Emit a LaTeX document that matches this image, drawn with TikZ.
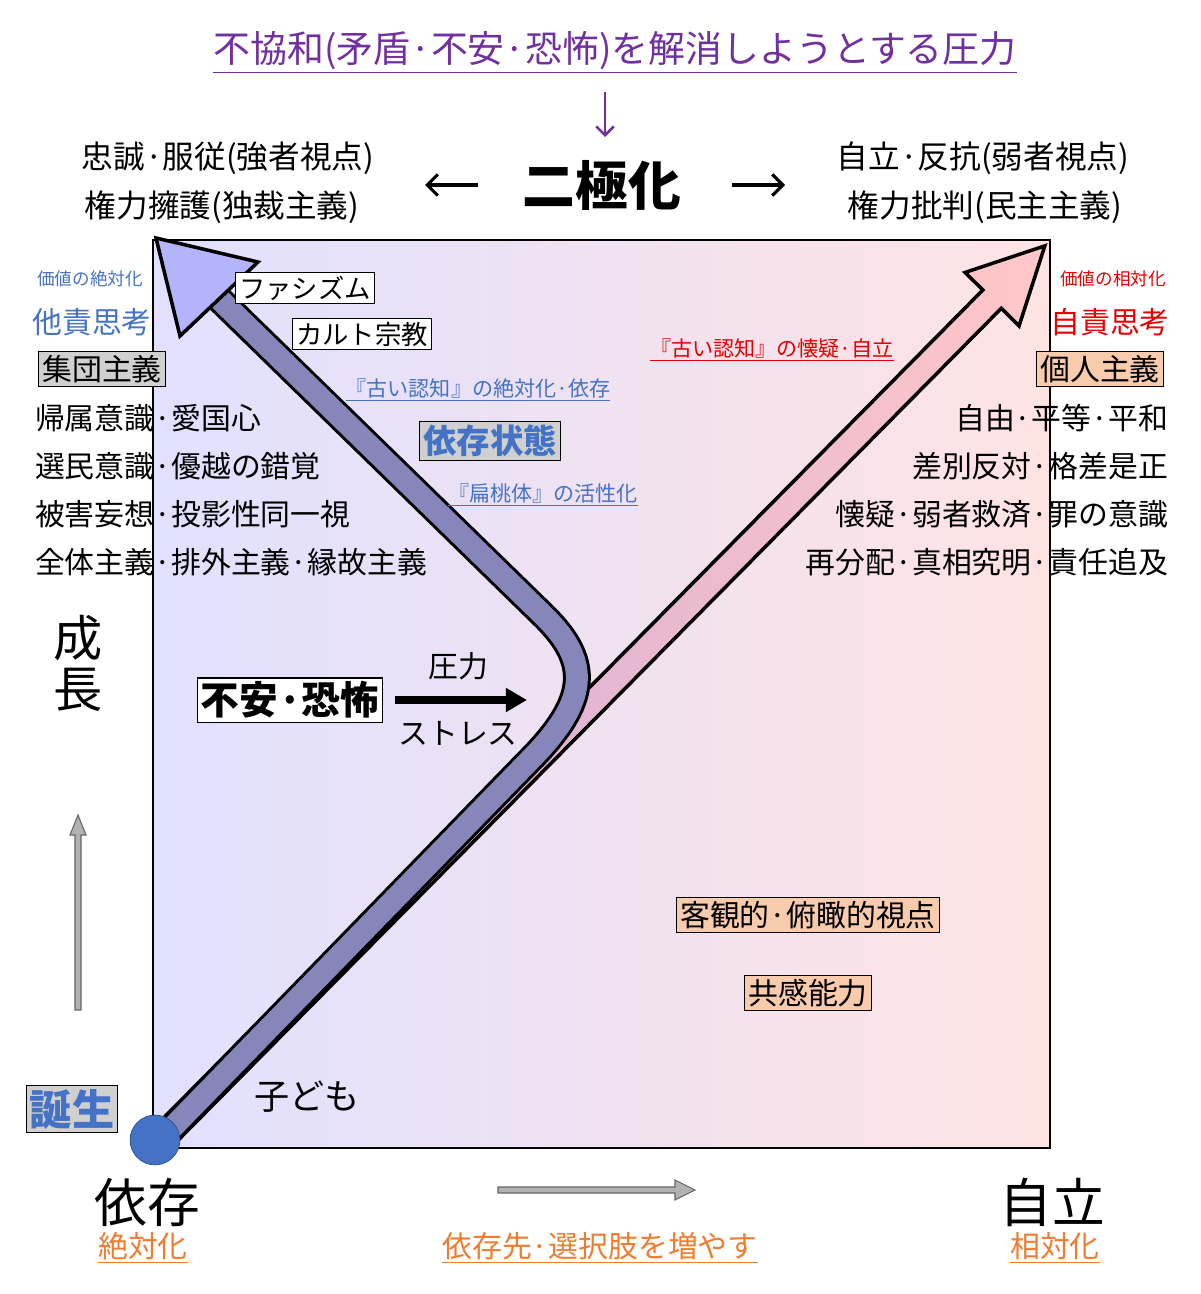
\documentclass[tikz,border=0pt]{standalone}
\usepackage{fontspec}
\setmainfont{Noto Sans CJK JP}
\usetikzlibrary{arrows.meta}
\definecolor{tblue}{RGB}{68,114,196}
\definecolor{tred}{RGB}{230,0,0}
\definecolor{torange}{RGB}{237,125,49}
\definecolor{tpurple}{RGB}{112,48,160}
\definecolor{obox}{RGB}{248,203,173}
\definecolor{gbox}{RGB}{208,208,208}
\definecolor{abl}{RGB}{180,180,250}
\newcommand{\fs}[1]{\fontsize{#1}{#1}\selectfont}
\tikzset{
 t/.style={inner sep=1pt,font=\fs{17}},
 ul/.style={t},
 bx/.style={t,draw,inner sep=2pt,line width=0.6pt},
}
\begin{document}
\begin{tikzpicture}[x=0.02cm,y=0.02cm]
\useasboundingbox (0,0) rectangle (1200,-1294);
% background box
\shade[left color=blue!12,middle color=white,right color=red!11] (153,-240) rectangle (1050,-1148);
\draw[line width=0.8pt] (153,-240) rectangle (1050,-1148);
% red arrow
\begin{scope}[shift={(160,-1140)},rotate=45.3]
\fill[left color=red!40!blue!35,right color=red!22,draw=black,line width=2pt]
 (0,-13)--(1183,-13)--(1183,-38)--(1258,0)--(1183,38)--(1183,13)--(0,13)--cycle;
\end{scope}
% blue arrow
\draw[line width=28pt*0.567,black,line cap=butt] (168,-1132) -- (528,-762) .. controls (590,-700) and (590,-662) .. (545,-617) -- (214,-294);
\draw[line width=22pt*0.567,abl,opacity=0.75] (168,-1132) -- (528,-762) .. controls (590,-700) and (590,-662) .. (545,-617) -- (210,-290);
\fill[abl,draw=black,line width=2pt] (156,-238) -- (258,-262) -- (180,-336) -- cycle;
% title
\node[ul,text=tpurple,font=\fs{21}] (title) at (615,-52) {\underline{不協和(矛盾·不安·恐怖)を解消しようとする圧力}};
\coordinate (pa) at (605,-92); \coordinate (pb) at (605,-137);
\draw[tpurple,line width=1.5pt,-{Straight Barb[length=5pt]}] (pa)--(pb);
\node[t,font=\fs{18}] (l1) at (228,-158) {忠誠·服従(強者視点)};
\node[t,font=\fs{18}] (l2) at (222,-207) {権力擁護(独裁主義)};
\node[t,font=\fs{18}] (r1) at (983,-158) {自立·反抗(弱者視点)};
\node[t,font=\fs{18}] (r2) at (985,-207) {権力批判(民主主義)};
\node[t,font=\fs{30}\bfseries] (nk) at (602,-185) {二極化};
\coordinate (al) at (478,-185); \coordinate (al2) at (425,-185);
\coordinate (ar) at (732,-185); \coordinate (ar2) at (785,-185);
\draw[line width=1.8pt,-{Straight Barb[length=6pt]}] (al)--(al2);
\draw[line width=1.8pt,-{Straight Barb[length=6pt]}] (ar)--(ar2);
% left column
\node[t,text=tblue,font=\fs{10}] (lv) at (90,-279) {価値の絶対化};
\node[t,text=tblue] (lt) at (92,-322) {他責思考};
\node[bx,fill=gbox] (lg) at (102,-369) {集団主義};
\node[t,anchor=west] (la) at (33,-418) {帰属意識·愛国心};
\node[t,anchor=west] (lb) at (33,-466) {選民意識·優越の錯覚};
\node[t,anchor=west] (lc) at (33,-514) {被害妄想·投影性同一視};
\node[t,anchor=west] (ld) at (33,-562) {全体主義·排外主義·縁故主義};
% right column
\node[t,text=tred,font=\fs{10}] (rv) at (1113,-279) {価値の相対化};
\node[t,text=tred] (rt) at (1110,-322) {自責思考};
\node[bx,fill=obox] (rg) at (1100,-369) {個人主義};
\node[t,anchor=east] (ra) at (1170,-418) {自由·平等·平和};
\node[t,anchor=east] (rb) at (1170,-466) {差別反対·格差是正};
\node[t,anchor=east] (rc) at (1170,-514) {懐疑·弱者救済·罪の意識};
\node[t,anchor=east] (rd) at (1170,-562) {再分配·真相究明·責任追及};
% inner
\node[bx,fill=white,font=\fs{15}] (fa) at (305,-288) {ファシズム};
\node[bx,fill=white,font=\fs{15}] (cu) at (362,-334) {カルト宗教};
\node[ul,text=tblue,font=\fs{12}] (k1) at (478,-390) {\underline{『古い認知』の絶対化·依存}};
\node[bx,fill=gbox,text=tblue,font=\fs{19}\bfseries] (iz) at (490,-441) {依存状態};
\node[ul,text=tblue,font=\fs{12}] (k2) at (543,-495) {\underline{『扁桃体』の活性化}};
\node[ul,text=tred,font=\fs{12}] (k3) at (772,-350) {\underline{『古い認知』の懐疑·自立}};
\node[t,font=\fs{28}] (s1) at (78,-638) {成};
\node[t,font=\fs{28}] (s2) at (78,-690) {長};
\coordinate (ga) at (78,-1010); \coordinate (gb) at (78,-815);
\draw[black!60,line width=0.6pt,fill=gray!60] (75,-1010)--(75,-835)--(70,-835)--(78,-815)--(86,-835)--(81,-835)--(81,-1010)--cycle;
\node[bx,fill=white,font=\fs{22}\bfseries] (fu) at (290,-700) {不安·恐怖};
\coordinate (ba) at (395,-700); \coordinate (bb) at (527,-700);
\draw[line width=4pt,-{Triangle[length=12pt,width=13pt]}] (ba)--(bb);
\node[t,font=\fs{17}] (ap) at (458,-666) {圧力};
\node[t,font=\fs{17}] (st) at (458,-733) {ストレス};
\node[bx,fill=obox] (kk) at (808,-915) {客観的·俯瞰的視点};
\node[bx,fill=obox] (ky) at (808,-993) {共感能力};
\node[t,font=\fs{20}] (ko) at (307,-1097) {子ども};
\node[bx,fill=gbox,text=tblue,font=\fs{24}\bfseries] (tj) at (72,-1109) {誕生};
\node[circle,fill=tblue,draw=tblue!70!black,minimum size=50*0.567pt,inner sep=0] (bc) at (155,-1140) {};
\node[t,font=\fs{30}] (iz2) at (147,-1202) {依存};
\node[ul,text=torange,font=\fs{17}] (za) at (143,-1248) {\underline{絶対化}};
\draw[black!60,line width=0.6pt,fill=gray!60] (498,-1187)--(675,-1187)--(675,-1180)--(695,-1190)--(675,-1200)--(675,-1193)--(498,-1193)--cycle;
\node[ul,text=torange,font=\fs{17}] (zs) at (600,-1248) {\underline{依存先·選択肢を増やす}};
\node[t,font=\fs{30}] (jr) at (1052,-1202) {自立};
\node[ul,text=torange,font=\fs{17}] (so) at (1055,-1248) {\underline{相対化}};
\end{tikzpicture}
\end{document}
